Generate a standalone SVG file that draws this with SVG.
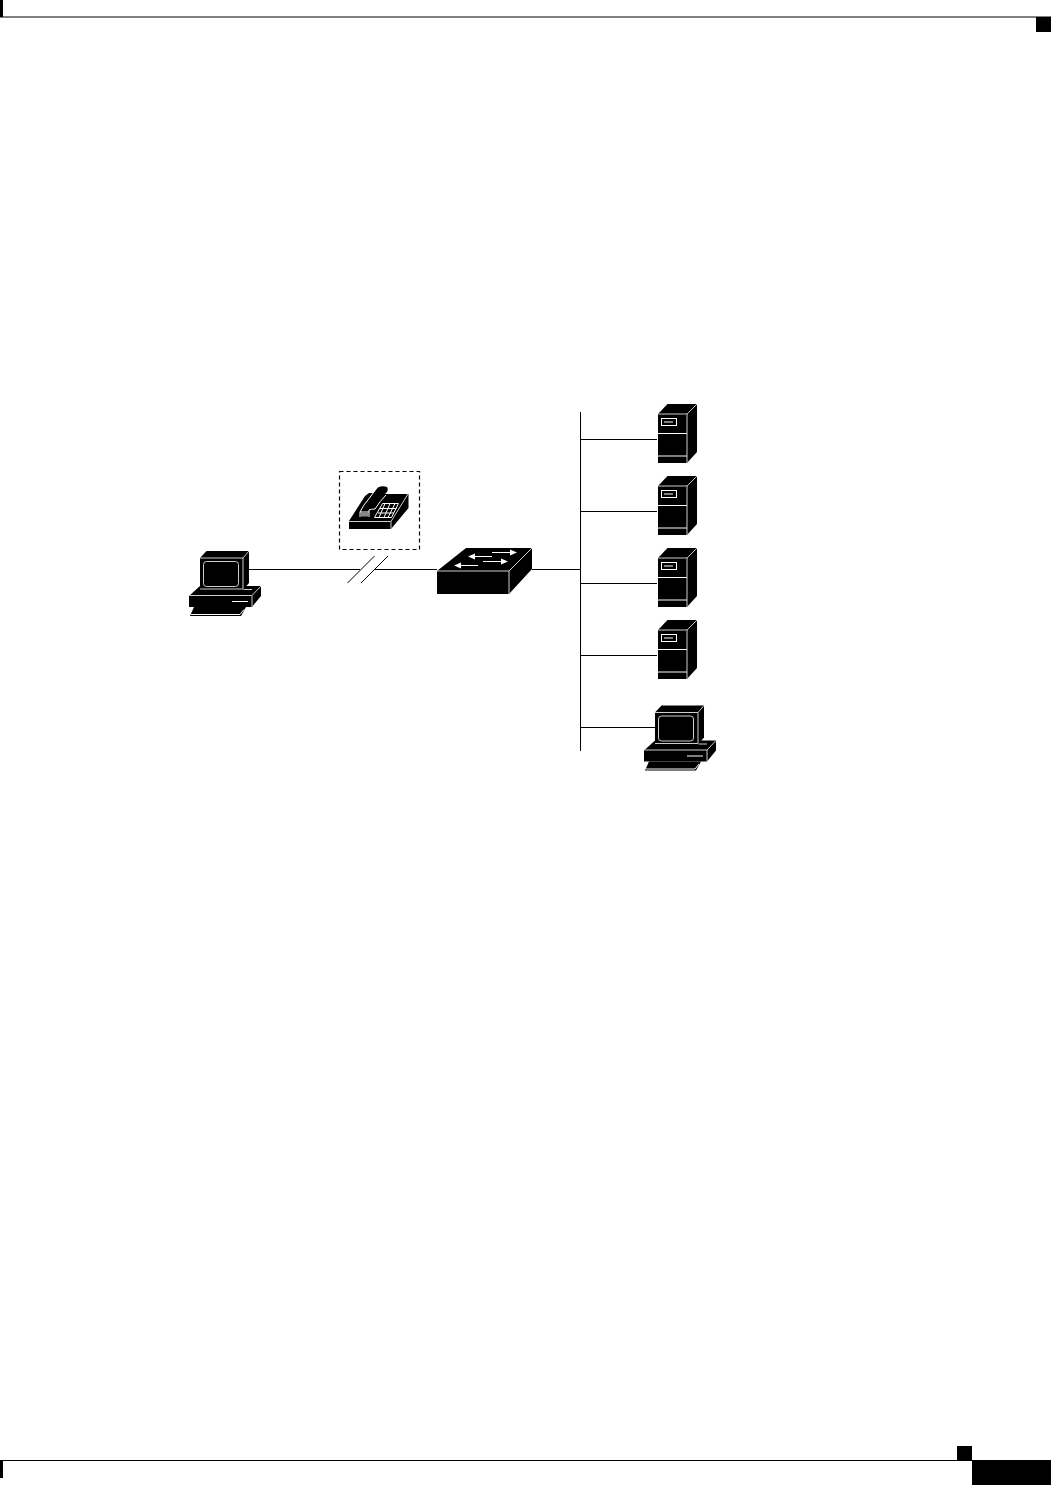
<svg xmlns="http://www.w3.org/2000/svg" width="1051" height="1485" viewBox="0 0 1051 1485">
<style>
.w{stroke:#fff;fill:none;stroke-width:1}
.g{stroke:#ccc;fill:none;stroke-width:1}
.k{fill:#000}
.c{stroke:#000;fill:none;stroke-width:1}
</style>
<defs>
<g id="pc">
<path class="k" d="M200 558L206.500 551H249V583L243 590H200Z"/>
<path class="k" d="M189 596L200 586H261V596L252 607H189Z"/>
<path class="k" d="M190 616L194 607H246L241 616Z"/>
<path class="g" d="M200 558H243V589M243 558L249 551"/>
<path class="g" d="M200 589H243"/>
<rect class="g" x="203.500" y="561.500" width="35" height="25" rx="3"/>
<path class="g" d="M189.500 595.500H252V607M252 595.500L261 586M243.500 589.500L252 589.500"/>
<path class="w" d="M232 601.500H248"/>
<path class="w" d="M191 614.500H240L244 609.500"/>
</g>
<g id="server">
<path class="k" d="M658 414L667.500 404H697V452L687 463H658Z"/>
<path class="g" d="M658 414H687V463M687 414L697 404"/>
<path class="w" d="M658 433.500H687M658 456H687"/>
<rect class="w" x="661.500" y="418.500" width="15" height="7"/>
<path class="w" d="M664 422H673"/>
</g>
</defs>
<rect width="1051" height="1485" fill="#fff"/>
<g id="page-frame">
<rect class="k" x="0" y="0" width="3" height="17"/>
<rect class="k" x="0" y="16.500" width="1051" height="1"/>
<rect class="k" x="1036" y="17" width="15" height="15"/>
<rect class="k" x="0" y="1460" width="972" height="1"/>
<rect class="k" x="0" y="1460" width="3" height="18"/>
<rect class="k" x="957" y="1446" width="15" height="15"/>
<rect class="k" x="972" y="1460" width="79" height="25"/>
</g>
<g id="connectors">
<path class="c" d="M249 569.500H360M374 569.500H437M532 569.500H580"/>
<path class="c" d="M347.500 583L374.500 556M361 583L388 556"/>
<path class="c" d="M580.500 412V751"/>
<path class="c" d="M580 439.500H657M580 511.500H657M580 583.500H657M580 655.500H657M580 727.500H655"/>
</g>
<g id="pc-left"><use href="#pc"/></g>
<g id="phone-box">
<rect x="339.500" y="471.500" width="80" height="78" fill="none" stroke="#000" stroke-width="1.200" stroke-dasharray="4 3"/>
<path class="k" d="M349 521L365 496L369 493H373L378 487.500Q382 485.500 387 487Q388.500 489 387 492L385 494H408.500V508L391 529H349Z"/>
<path class="g" d="M349 521.500H391V529M391 521.500L408 494"/>
<path class="w" d="M360 512L364 505Q369 499 376 489M375 509Q380 501 386 495M369 517V510Q371 509 375 509M360 512H369M360 512V517"/>
<path fill="#888" d="M360.500 512.500H368.500V516.500H360.500Z"/>
<path class="w" d="M374.500 517.500L382.500 503.500H398.500L391.500 517.500ZM378 513H394M380 508.500H396.500M385 503.500L379 517.500M390 503.500L384 517.500M395 503.500L388 517.500"/>
</g>
<g id="switch">
<path class="k" d="M437 571L466 548H532V569L509 594H437Z"/>
<path class="g" d="M437 571H509V594M509 571L532 548"/>
<path class="w" stroke-width="1.500" d="M472 556.500H492M492 552.500H512M458 565.500H478M483 561.500H503"/>
<path fill="#fff" d="M468 556.500L475 553.500V559.500ZM517 552.500L510 549.500V555.500ZM454 565.500L461 562.500V568.500ZM508 561.500L501 558.500V564.500Z"/>
</g>
<g id="server-1"><use href="#server"/></g>
<g id="server-2"><use href="#server" y="72"/></g>
<g id="server-3"><use href="#server" y="144"/></g>
<g id="server-4"><use href="#server" y="216"/></g>
<g id="pc-right"><use href="#pc" x="455" y="154.500"/></g>
</svg>
